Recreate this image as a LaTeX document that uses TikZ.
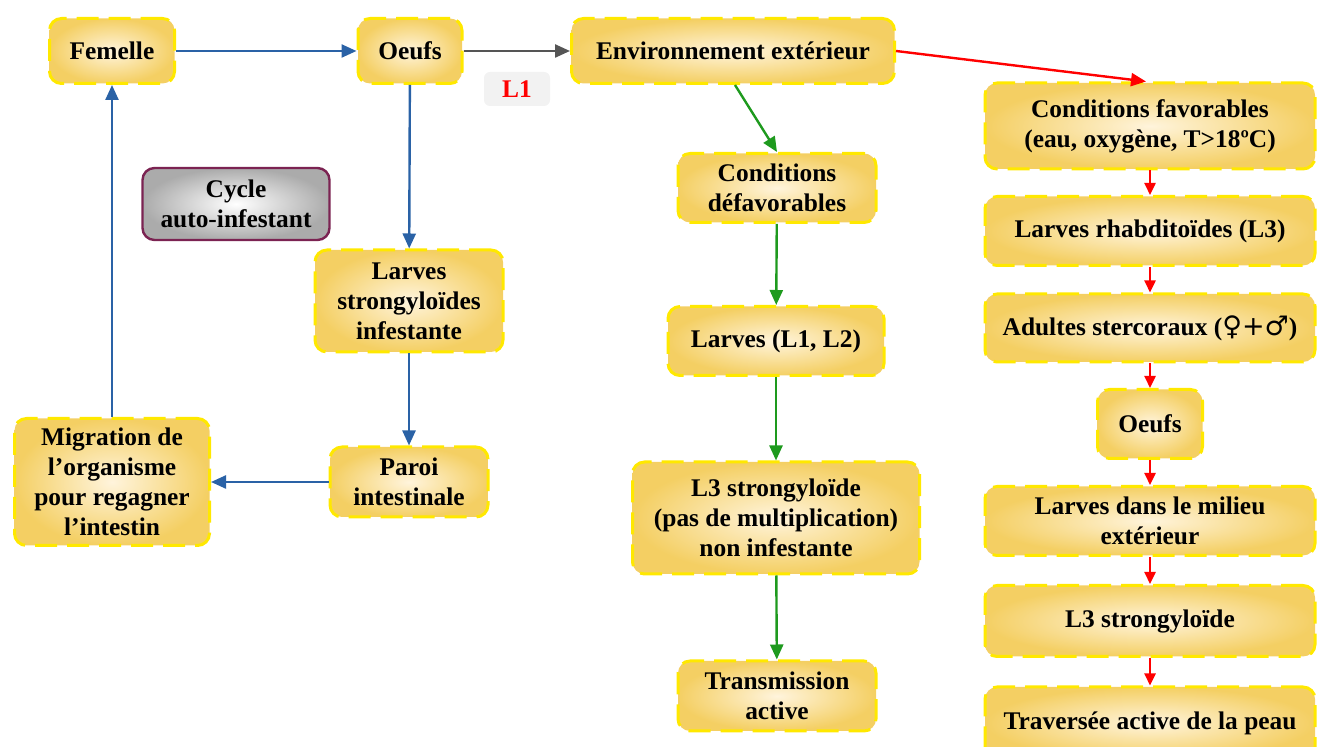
\documentclass[tikz,border=0pt]{standalone}
\usepackage{fontspec}
\setmainfont{Liberation Serif}
\newfontfamily\symfont{DejaVu Sans}
\usetikzlibrary{arrows.meta}
\definecolor{gold}{HTML}{F4CF63}
\definecolor{cream}{HTML}{FFF4DC}
\definecolor{ybord}{HTML}{FFE800}
\definecolor{bluea}{HTML}{2A62A6}
\definecolor{greena}{HTML}{1E9A1E}
\definecolor{graya}{HTML}{555555}
\definecolor{maroon}{HTML}{7B2352}
\tikzset{
  box/.style={draw=ybord, line width=1.5pt, dash pattern=on 11pt off 5pt,
    rounded corners=6pt, inner color=cream, outer color=gold,
    align=center, inner sep=0pt, font=\bfseries\fontsize{12.7}{15}\selectfont},
  cyc/.style={draw=maroon, line width=1.2pt, rounded corners=6pt,
    inner color=white, outer color=black!33, align=center, inner sep=0pt,
    font=\bfseries\fontsize{12.7}{15}\selectfont},
  lab/.style={fill=black!5, rounded corners=3pt, text=red, inner sep=0pt,
    font=\bfseries\fontsize{12.7}{15}\selectfont},
  arr/.style={line width=1.2pt, -{Triangle[length=7.5pt,width=6.5pt]}},
  sarr/.style={line width=1.2pt, -{Triangle[length=6pt,width=5.5pt]}},
}
\begin{document}
\begin{tikzpicture}[x=0.5pt,y=-0.5pt]
\useasboundingbox (0,0) rectangle (1317,747);
% left part
\node[box, minimum width=62.5pt, minimum height=32.5pt] (fem) at (112,51) {Femelle};
\node[box, minimum width=52pt, minimum height=32.5pt] (oeu) at (410,51) {Oeufs};
\node[box, minimum width=161.5pt, minimum height=32.5pt] (env) at (733,51) {Environnement extérieur};
\node[lab, minimum width=33pt, minimum height=17pt] (l1) at (517,89) {L1};
\node[cyc, minimum width=93.5pt, minimum height=36pt] (cyc) at (236,204) {Cycle\\auto-infestant};
\node[box, minimum width=94pt, minimum height=51pt] (lst) at (409,301) {Larves\\strongyloïdes\\infestante};
\node[box, minimum width=79pt, minimum height=35pt] (par) at (409,482) {Paroi\\intestinale};
\node[box, minimum width=97.5pt, minimum height=63.5pt] (mig) at (112,482) {Migration de\\l’organisme\\pour regagner\\l’intestin};
% middle column
\node[box, minimum width=99pt, minimum height=34.5pt] (cd) at (777,188) {Conditions\\défavorables};
\node[box, minimum width=108pt, minimum height=34.5pt] (l12) at (776,341) {Larves (L1, L2)};
\node[box, minimum width=143.5pt, minimum height=56pt] (l3n) at (776,518) {L3 strongyloïde\\(pas de multiplication)\\non infestante};
\node[box, minimum width=99pt, minimum height=35pt] (tra) at (777,696) {Transmission\\active};
% right column
\node[box, minimum width=165pt, minimum height=43pt] (cf) at (1150,126) {Conditions favorables\\(eau, oxygène, T>18ºC)};
\node[box, minimum width=165pt, minimum height=34.5pt] (lrh) at (1150,231) {Larves rhabditoïdes (L3)};
\node[box, minimum width=165pt, minimum height=34pt] (adu) at (1150,328) {Adultes stercoraux ({\symfont\mdseries\fontsize{13.5}{15}\selectfont ♀+♂})};
\node[box, minimum width=52.5pt, minimum height=34.5pt] (oe2) at (1150,424) {Oeufs};
\node[box, minimum width=165pt, minimum height=34.5pt] (lme) at (1150,521) {Larves dans le milieu\\extérieur};
\node[box, minimum width=165pt, minimum height=35.5pt] (l3s) at (1150,621) {L3 strongyloïde};
\node[box, minimum width=165pt, minimum height=36pt] (tap) at (1150,723) {Traversée active de la peau};
% arrows
\draw[arr, bluea] (fem) -- (oeu);
\draw[arr, graya] (oeu) -- (env);
\draw[arr, red] (env.east) -- ([xshift=-2pt]cf.north);
\draw[arr, greena] ([xshift=1pt]env.south) -- (cd.north);
\draw[arr, bluea] (oeu) -- (lst);
\draw[arr, bluea] (lst) -- (par);
\draw[arr, bluea] (par) -- (mig);
\draw[arr, bluea] (mig) -- (fem);
\draw[arr, greena] (cd) -- (l12);
\draw[arr, greena] (l12) -- (l3n);
\draw[arr, greena] (l3n) -- (tra);
\draw[sarr, red] (cf) -- (lrh);
\draw[sarr, red] (lrh) -- (adu);
\draw[sarr, red] (adu) -- (oe2);
\draw[sarr, red] (oe2) -- (lme);
\draw[sarr, red] (lme) -- (l3s);
\draw[sarr, red] (l3s) -- (tap);
\end{tikzpicture}
\end{document}
